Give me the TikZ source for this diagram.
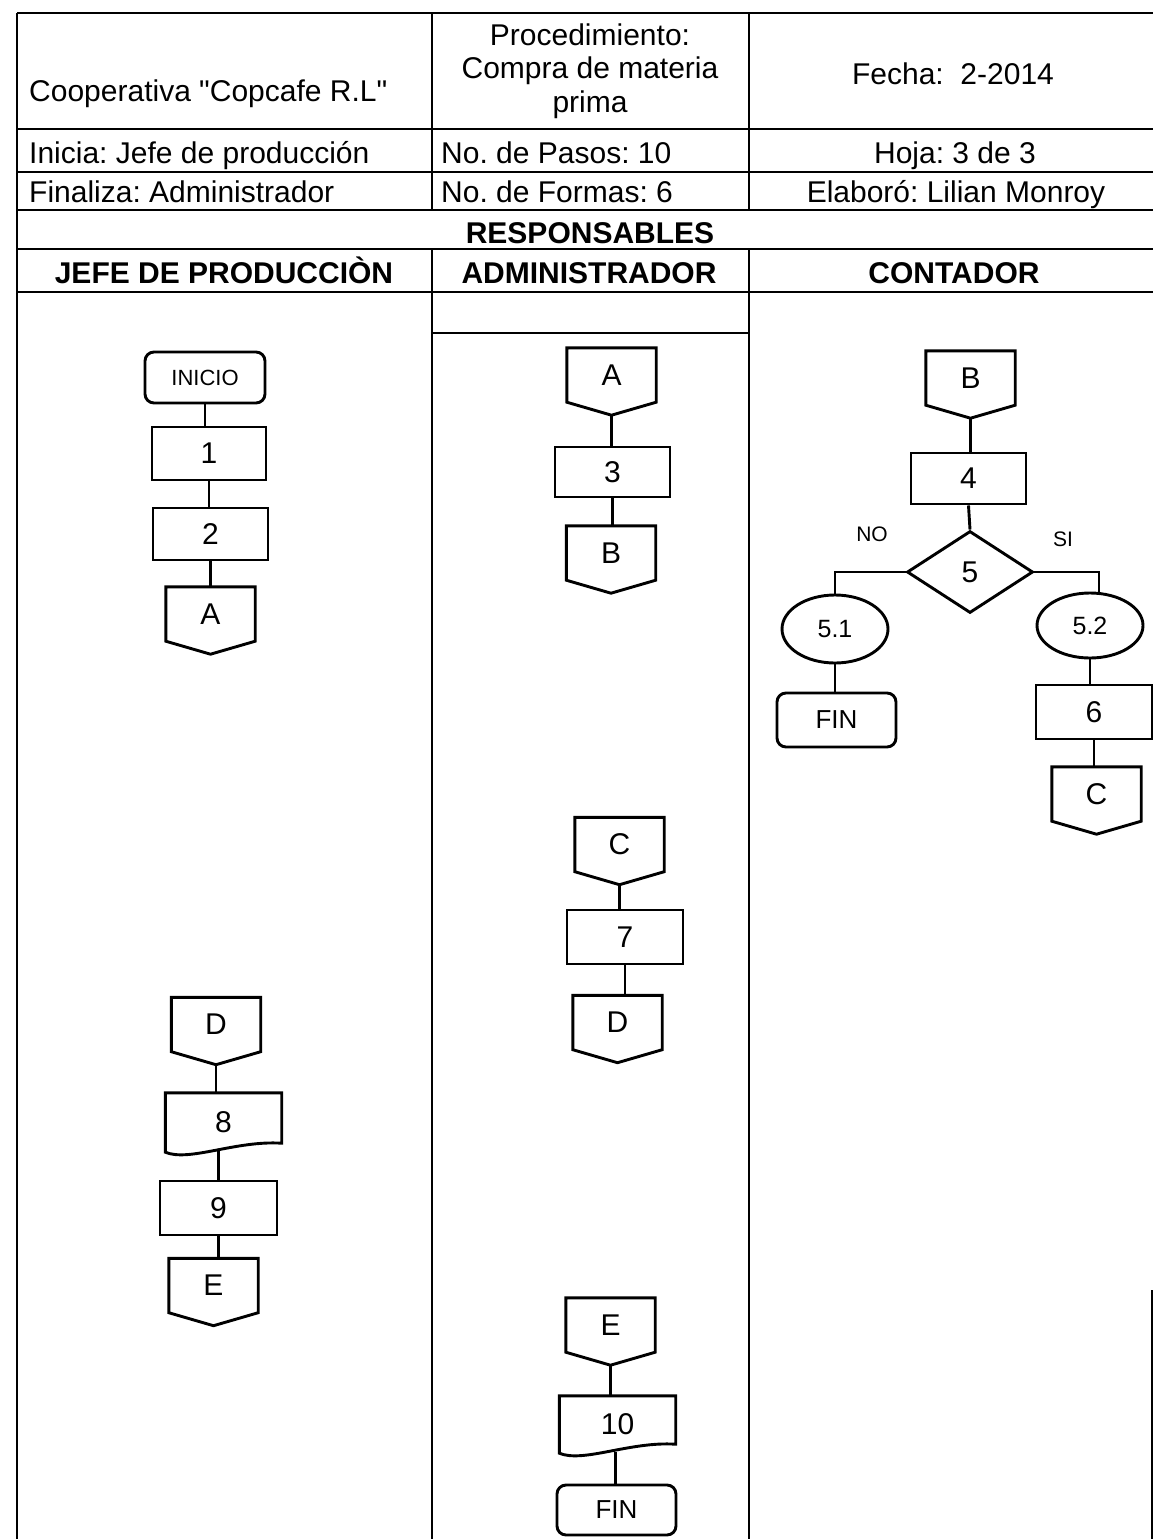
\documentclass[tikz,border=0pt]{standalone}
\usepackage{fontspec}
\setmainfont{Liberation Sans}[Ligatures=TeXOff]
\usetikzlibrary{shapes.geometric,calc}
\frenchspacing
\tikzset{
  ln/.style={line width=2.9pt},
  hdr/.style={font=\fontsize{30}{35}\selectfont, inner sep=0pt},
  hdrb/.style={font=\bfseries\fontsize{30}{35}\selectfont, inner sep=0pt},
  proc/.style={draw, line width=2.9pt, inner sep=0pt, minimum width=115pt, minimum height=52pt, font=\fontsize{30}{32}\selectfont},
  term/.style={draw, line width=2.9pt, inner sep=0pt, rounded corners=9pt, minimum width=119pt, minimum height=52pt, font=\fontsize{26}{28}\selectfont},
  offbody/.style={inner sep=0pt, minimum width=89pt, minimum height=54pt, font=\fontsize{30}{32}\selectfont},
  docbody/.style={inner sep=0pt, minimum width=116pt, font=\fontsize{30}{32}\selectfont},
  ell/.style={draw, ellipse, line width=2.9pt, inner sep=0pt, minimum width=106pt, minimum height=67pt, font=\fontsize{25}{28}\selectfont},
  dia/.style={draw, diamond, line width=2.9pt, inner sep=0pt, minimum width=126pt, minimum height=82pt, font=\fontsize{30}{32}\selectfont},
  lbl/.style={inner sep=0pt, font=\fontsize{21}{23}\selectfont},
}
% off-page connector: name, x, y (body centre), label
\newcommand{\myoff}[4]{%
  \node[offbody] (#1) at (#2,#3) {#4};
  \draw[ln, line join=miter] (#1.north west) -- (#1.north east) -- (#1.south east)
     -- ($(#1.south)+(0,13)$) coordinate (#1tip) -- (#1.south west) -- cycle;}
% document shape: name, x, y (centre), height, label
\newcommand{\mydoc}[5]{%
  \node[docbody, minimum height=#4pt] (#1) at (#2,#3) {#5};
  \draw[ln, line join=miter] (#1.south west) -- (#1.north west) -- (#1.north east)
     -- ($(#1.south east)+(0,-9)$)
     .. controls ($(#1.south east)+(-46,-12)$) and ($(#1.south west)+(24,10)$) .. (#1.south west) -- cycle;}
\begin{document}
\begin{tikzpicture}[x=1pt,y=-1pt]
\useasboundingbox (0,0) rectangle (1153,1539);
\fill[white] (0,0) rectangle (1153,1539);

% ---------- table ----------
\draw[ln] (17,13) -- (1153,13);
\draw[ln] (17,129) -- (1153,129);
\draw[ln] (17,172) -- (1153,172);
\draw[ln] (17,210) -- (1153,210);
\draw[ln] (17,249) -- (1153,249);
\draw[ln] (17,292) -- (1153,292);
\draw[ln] (432,333) -- (749,333);
\draw[ln] (17,13) -- (17,1539);
\draw[ln] (432,13) -- (432,210);
\draw[ln] (749,13) -- (749,210);
\draw[ln] (432,249) -- (432,1539);
\draw[ln] (749,249) -- (749,1539);
\draw[ln] (1152,1290) -- (1152,1539);

% ---------- header texts ----------
\node[hdr, anchor=base west] (coop) at (29,101) {Cooperativa "Copcafe R.L"};
\node[hdr, anchor=base] (proc1) at (590,45) {Procedimiento:};
\node[hdr, anchor=base] (proc2) at (590,78.5) {Compra de materia};
\node[hdr, anchor=base] (proc3) at (590,112) {prima};
\node[hdr, anchor=base] (fecha) at (953,84) {Fecha:\ \ 2-2014};
\node[hdr, anchor=base west] (inicia) at (29,163) {Inicia: Jefe de producción};
\node[hdr, anchor=base west] (pasos) at (441,163) {No. de Pasos: 10};
\node[hdr, anchor=base] (hoja) at (955,163) {Hoja: 3 de 3};
\node[hdr, anchor=base west] (finaliza) at (29,202) {Finaliza: Administrador};
\node[hdr, anchor=base west] (formas) at (441,202) {No. de Formas: 6};
\node[hdr, anchor=base] (elab) at (956,202) {Elaboró: Lilian Monroy};
\node[hdrb, anchor=base] (resp) at (590,243) {RESPONSABLES};
\node[hdrb, anchor=base] (jefe) at (224,283) {JEFE DE PRODUCCIÒN};
\node[hdrb, anchor=base] (admin) at (589,283) {ADMINISTRADOR};
\node[hdrb, anchor=base] (cont) at (954,283) {CONTADOR};

% ---------- Jefe de produccion ----------
\node[term, minimum width=120pt, minimum height=51pt, font=\fontsize{22}{24}\selectfont] (ini) at (205,377.5) {INICIO};
\node[proc, minimum width=114pt, minimum height=53pt] (p1) at (209,453.5) {1};
\node[proc] (p2) at (210.5,534) {2};
\myoff{jA}{210.5}{614}{A}
\draw[ln] (ini.south) -- (ini.south |- p1.north);
\draw[ln] (p1.south) -- (p1.south |- p2.north);
\draw[ln] (p2.south) -- (p2.south |- jA.north);

\myoff{jD}{216}{1024.5}{D}
\mydoc{p8}{223.5}{1122.5}{59}{8}
\node[proc, minimum width=117pt, minimum height=54pt] (p9) at (218.5,1208) {9};
\myoff{jE}{213.5}{1285.5}{E}
\draw[ln] (jDtip) -- (jDtip |- p8.north);
\draw[ln] ($(p8.south)+(-5,-2)$) coordinate (p8out) -- (p8out |- p9.north);
\draw[ln] (p9.south) -- (p9.south |- jE.north);

% ---------- Administrador ----------
\myoff{aA}{611.5}{375}{A}
\node[proc, minimum height=50pt] (p3) at (612.5,472) {3};
\myoff{aB}{611}{553}{B}
\draw[ln] (aAtip) -- (aAtip |- p3.north);
\draw[ln] (p3.south) -- (p3.south |- aB.north);

\myoff{aC}{619.5}{844.5}{C}
\node[proc, minimum width=116pt, minimum height=54pt] (p7) at (625,937) {7};
\myoff{aD}{617.5}{1022.5}{D}
\draw[ln] (aCtip) -- (aCtip |- p7.north);
\draw[ln] (p7.south) -- (p7.south |- aD.north);

\myoff{aE}{610.5}{1325}{E}
\mydoc{p10}{617.5}{1424.5}{57}{10}
\node[term, minimum height=50pt] (fin2) at (616.5,1510) {FIN};
\draw[ln] (aEtip) -- (aEtip |- p10.north);
\draw[ln] ($(p10.south)+(-2,-1)$) coordinate (p10out) -- (p10out |- fin2.north);

% ---------- Contador ----------
\myoff{cB}{970.5}{378}{B}
\node[proc, minimum height=51pt] (p4) at (968.5,478.5) {4};
\node[dia] (d5) at (970,572) {5};
\node[ell, minimum height=68pt] (e51) at (835,629) {5.1};
\node[term, minimum height=54pt] (fin1) at (836.5,720) {FIN};
\node[ell, minimum height=65pt] (e52) at (1090,625.5) {5.2};
\node[proc, minimum width=116pt, minimum height=54pt] (p6) at (1094,712) {6};
\myoff{cC}{1096.5}{794}{C}
\node[lbl] (no) at (872,534) {NO};
\node[lbl] (si) at (1063,539) {SI};
\draw[ln] (cBtip) -- (cBtip |- p4.north);
\draw[ln] (p4.south) -- (d5.north);
\draw[ln] (d5.west) -| (e51.north);
\draw[ln] (d5.east) -| (e52.75);
\draw[ln] (e51.south) -- (e51.south |- fin1.north);
\draw[ln] (e52.south) -- (e52.south |- p6.north);
\draw[ln] (p6.south) -- (p6.south |- cC.north);
\end{tikzpicture}
\end{document}
